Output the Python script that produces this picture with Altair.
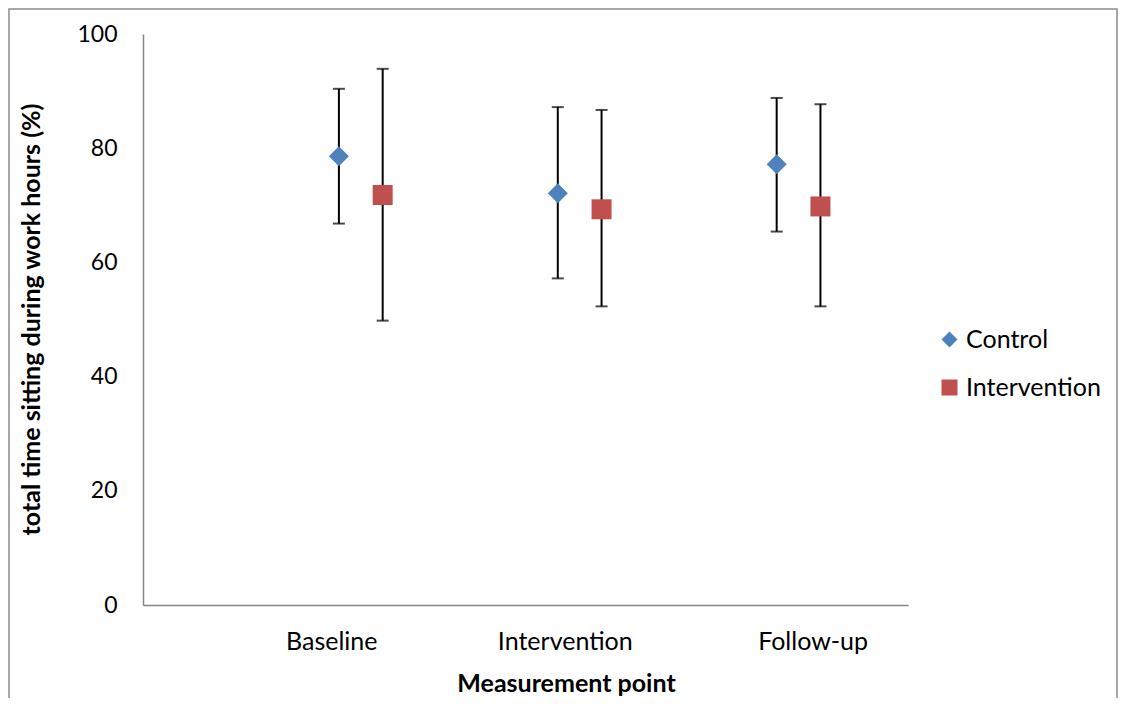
import altair as alt
import pandas as pd

# ---- data ----
points = ["Baseline", "Intervention", "Follow-up"]
groups = ["Control", "Intervention"]
control_mean = [78.6, 72.1, 77.2]
control_low = [66.8, 57.2, 65.4]
control_high = [90.4, 87.2, 88.8]
interv_mean = [71.8, 69.3, 69.8]
interv_low = [49.8, 52.3, 52.3]
interv_high = [93.9, 86.7, 87.7]

# layout constants
series_offset = {"Control": 0.0, "Intervention": 0.2}
label_positions = [0.965, 2.032, 3.164]

rows = []
for i, p in enumerate(points):
    rows.append({"point": p, "group": "Control", "x": i + 1 + series_offset["Control"],
                 "mean": control_mean[i], "low": control_low[i], "high": control_high[i]})
    rows.append({"point": p, "group": "Intervention", "x": i + 1 + series_offset["Intervention"],
                 "mean": interv_mean[i], "low": interv_low[i], "high": interv_high[i]})
df = pd.DataFrame(rows)

label_expr = " : ".join(
    [f"datum.value == {v} ? '{p}'" for v, p in zip(label_positions, points)]
) + " : ''"

font = "Lato"
fs = 25
fs_num = 23

xscale = alt.Scale(domain=[0.105, 3.6], nice=False, zero=False)
yscale = alt.Scale(domain=[0, 100], nice=False)

base = alt.Chart(df)

x_enc = alt.X(
    "x:Q", scale=xscale,
    axis=alt.Axis(values=label_positions, labelExpr=label_expr, ticks=False, grid=False,
                  domainColor="#868686", domainWidth=1.5, labelFontSize=fs, labelFont=font,
                  labelColor="black", labelBaseline="middle", labelPadding=36,
                  title="Measurement point", titleFontSize=fs, titleFont=font,
                  titleFontWeight="bold", titleColor="black", titleX=423, titleY=86,
                  titleBaseline="alphabetic", titleAnchor="start", titleAlign="center"),
)
y_enc = alt.Y(
    "mean:Q", scale=yscale,
    axis=alt.Axis(values=[0, 20, 40, 60, 80, 100], ticks=False, grid=False,
                  domainColor="#868686", domainWidth=1.5, labelFontSize=fs_num, labelFont=font,
                  labelColor="black", labelPadding=26,
                  title="total time sitting during work hours (%)", titleFontSize=fs,
                  titleFont=font, titleFontWeight="bold", titleColor="black",
                  titleX=-112, titleY=285, titleBaseline="middle", titleAngle=-90),
)

rules = base.mark_rule(color="black", strokeWidth=2).encode(
    x=alt.X("x:Q", scale=xscale),
    y=alt.Y("low:Q", scale=yscale),
    y2="high:Q",
)
cap_low = base.mark_tick(color="black", orient="horizontal", size=12, thickness=2).encode(
    x=alt.X("x:Q", scale=xscale), y=alt.Y("low:Q", scale=yscale)
)
cap_high = base.mark_tick(color="black", orient="horizontal", size=12, thickness=2).encode(
    x=alt.X("x:Q", scale=xscale), y=alt.Y("high:Q", scale=yscale)
)

legend = alt.Legend(title=None, orient="none", legendX=794, legendY=293,
                    labelFontSize=fs, labelFont=font, labelColor="black",
                    symbolSize=256, rowPadding=22, labelOffset=4,
                    padding=0, symbolStrokeWidth=0)

pts = base.mark_point(filled=True, opacity=1, size=400).encode(
    x=x_enc,
    y=y_enc,
    color=alt.Color("group:N", scale=alt.Scale(domain=groups, range=["#4F81BD", "#C0504D"]),
                    legend=legend),
    shape=alt.Shape("group:N", scale=alt.Scale(domain=groups, range=["diamond", "square"]),
                    legend=legend),
)

border = alt.Chart(pd.DataFrame({"a": [0]})).mark_rect(
    fill=None, stroke="#8c8c8c", strokeWidth=1.5
).encode(
    x=alt.value(-134), x2=alt.value(974), y=alt.value(-25), y2=alt.value(680)
)

chart = alt.layer(border, rules, cap_low, cap_high, pts).properties(
    width=765, height=571,
    autosize=alt.AutoSizeParams(type="none"),
    padding={"left": 135, "top": 26, "right": 210, "bottom": 93},
).configure(font=font).configure_view(stroke=None)

chart.save("out.html", embed_options={"renderer": "svg", "actions": False})
